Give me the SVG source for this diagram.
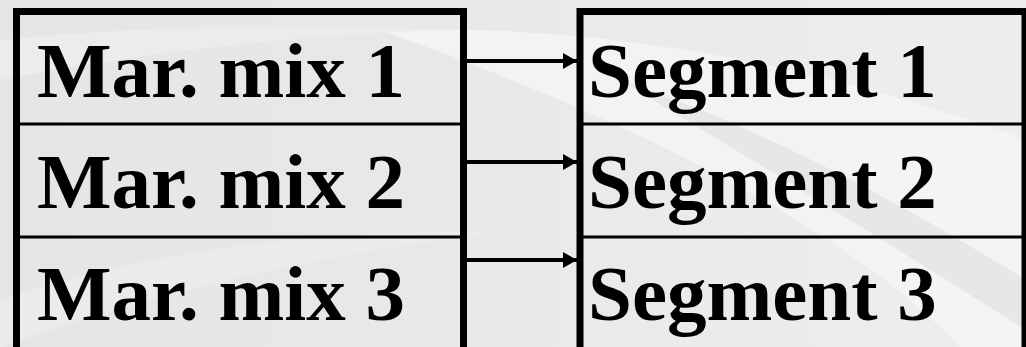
<svg xmlns="http://www.w3.org/2000/svg" width="1026" height="347" viewBox="0 0 1026 347">
  <defs>
    <linearGradient id="bg" x1="0" y1="0" x2="1" y2="0">
      <stop offset="0" stop-color="#e5e5e5"/>
      <stop offset="0.5" stop-color="#e9e9e9"/>
      <stop offset="1" stop-color="#eeeeee"/>
    </linearGradient>
    <marker id="ah" viewBox="0 0 14 16" refX="14" refY="8" markerWidth="14" markerHeight="16" markerUnits="userSpaceOnUse" orient="auto">
      <path d="M0,0 L14,8 L0,16 Z" fill="#000"/>
    </marker>
    <style>
      .box { fill: none; stroke: #000; stroke-width: 7; }
      .div { stroke: #000; stroke-width: 3; }
      .lbl { font-family: "Liberation Serif", "Times New Roman", serif; font-weight: bold; font-size: 79px; fill: #000; }
      .conn { stroke: #000; stroke-width: 4; fill: none; marker-end: url(#ah); }
      .sw { fill: #f4f4f4; }
    </style>
  </defs>
  <g id="background">
    <rect x="0" y="0" width="1026" height="347" fill="url(#bg)"/>
    <path class="sw" d="M380,30 Q700,20 1026,140 L1026,347 L960,347 Q800,180 380,30 Z" opacity="0.9"/>
    <path d="M620,80 Q800,140 1026,280 L1026,330 Q820,200 620,80 Z" fill="#e4e4e4" opacity="0.8"/>
    <path d="M0,40 Q200,20 440,30 Q200,40 0,80 Z" fill="#ececec"/>
    <path d="M0,300 Q200,230 520,230 Q250,260 0,347 Z" fill="#ebebeb"/>
  </g>
  <g id="node-marmix">
    <rect class="box" x="16.5" y="11.5" width="447" height="340"/>
    <line class="div" x1="20" y1="124" x2="460" y2="124"/>
    <line class="div" x1="20" y1="237" x2="460" y2="237"/>
    <text class="lbl" x="37" y="97">Mar. mix 1</text>
    <text class="lbl" x="37" y="208">Mar. mix 2</text>
    <text class="lbl" x="37" y="320">Mar. mix 3</text>
  </g>
  <g id="node-segment">
    <rect class="box" x="580" y="11.5" width="445" height="340"/>
    <line class="div" x1="583" y1="124" x2="1022" y2="124"/>
    <line class="div" x1="583" y1="237" x2="1022" y2="237"/>
    <text class="lbl" x="588" y="97">Segment 1</text>
    <text class="lbl" x="588" y="208">Segment 2</text>
    <text class="lbl" x="588" y="320">Segment 3</text>
  </g>
  <g id="connectors">
    <line class="conn" x1="467" y1="61" x2="577" y2="61"/>
    <line class="conn" x1="467" y1="162" x2="577" y2="162"/>
    <line class="conn" x1="467" y1="260" x2="577" y2="260"/>
  </g>
</svg>
